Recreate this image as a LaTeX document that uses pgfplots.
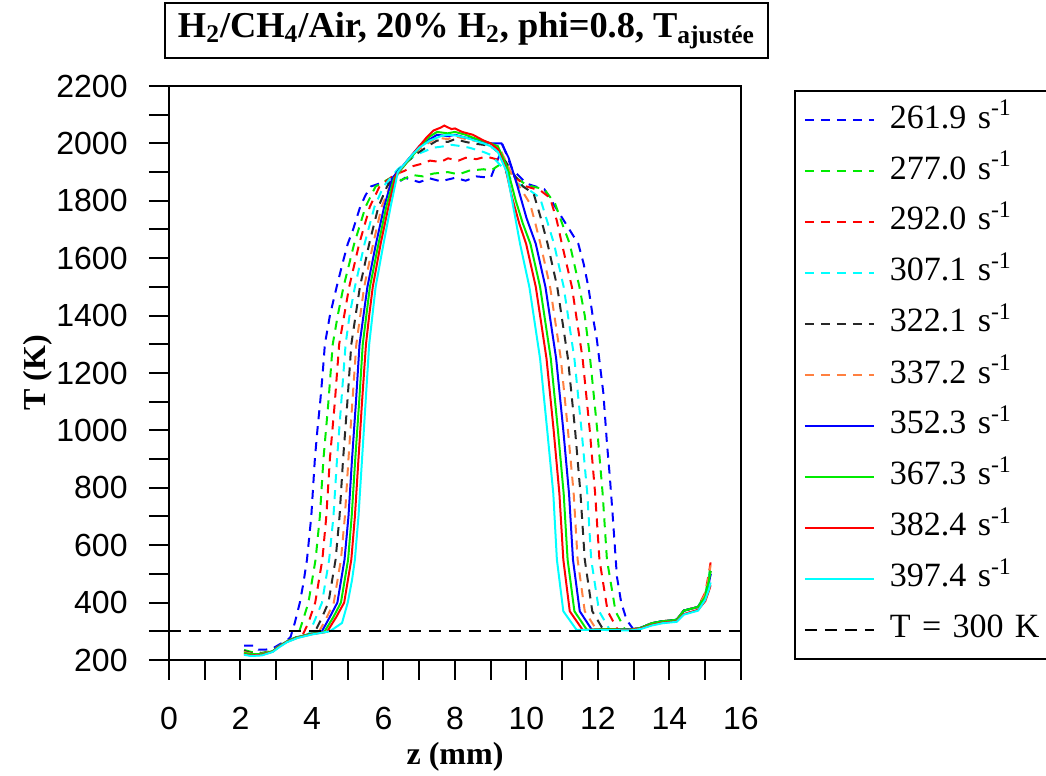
\documentclass[border=0pt]{standalone}
\usepackage{fontspec}
\setmainfont{Liberation Serif}
\newfontfamily\arialfont{Liberation Sans}
\usepackage{pgfplots}
\pgfplotsset{compat=1.18}
\definecolor{cblue}{RGB}{0,0,255}
\definecolor{cgreen}{RGB}{0,235,0}
\definecolor{cred}{RGB}{255,0,0}
\definecolor{ccyan}{RGB}{0,255,255}
\definecolor{cblack}{RGB}{40,40,40}
\definecolor{corange}{RGB}{255,128,64}
\begin{document}
\begin{tikzpicture}
\path[use as bounding box] (-84.5pt,-58pt) rectangle (438.5pt,330pt);
\begin{axis}[
  at={(0pt,0pt)}, anchor=south west,
  scale only axis, width=286pt, height=287pt,
  xmin=0, xmax=16, ymin=200, ymax=2200,
  xtick={0,2,...,16}, ytick={200,400,...,2200},
  minor x tick num=1, minor y tick num=1,
  tick pos=left, tick align=outside,
  major tick length=10pt, minor tick length=10pt,
  every tick/.style={black, line width=1pt},
  axis line style={line width=1pt},
  /pgf/number format/assume math mode=true,
  /pgf/number format/1000 sep={},
  ticklabel style={font=\arialfont\fontsize{16}{18}\selectfont, inner sep=0pt},
  xticklabel style={anchor=base, yshift=-24.5pt},
  yticklabel style={anchor=east, xshift=-10.5pt},
  xlabel={z (mm)}, ylabel={T (K)},
  label style={font=\bfseries\fontsize{16}{18}\selectfont},
  xlabel style={at={(axis description cs:0.5,-0.168)}, anchor=center},
  ylabel style={at={(axis description cs:-0.23,0.5)}, anchor=center},
  title={H\textsubscript{2}/CH\textsubscript{4}/Air, 20\% H\textsubscript{2}, phi=0.8, T\textsubscript{ajustée}},
  title style={at={(axis description cs:0.52,1)}, anchor=center, yshift=21.75pt, draw=black, line width=1pt, minimum width=301.5pt, minimum height=27.5pt, inner sep=0pt, font=\bfseries\fontsize{18.2}{21}\selectfont},
  no marks,
  every axis plot/.append style={line width=1pt},
  legend image code/.code={\draw[#1] (0pt,0pt) -- (34.5pt,0pt);},
  legend cell align=left,
  legend style={at={(axis description cs:1,1)}, anchor=north west, xshift=26.5pt, yshift=-2pt,
    draw=black, line width=1pt, font=\fontsize{17}{20}\selectfont,
    inner xsep=4.5pt, inner ysep=6.5pt, row sep=9.5pt, column sep=7.5pt,
    nodes={inner sep=0pt, text height=12pt, text depth=4pt, text width=80pt}},
  dashpat/.style={dash pattern=on 4.5pt off 3.5pt},
]
% 261.9
\addplot[cblue, dashpat] coordinates {(2.1,250) (2.4,250) (2.5,236) (2.7,236) (2.9,240) (3.1,255) (3.3,268) (3.4,280) (3.52,330) (3.66,400) (3.76,468) (3.86,550) (3.98,700) (4.08,900) (4.15,1000) (4.23,1100) (4.3,1200) (4.36,1300) (4.5,1400) (4.69,1500) (4.85,1580) (5.0,1650) (5.15,1700) (5.35,1780) (5.5,1820) (5.65,1850) (6.0,1865) (6.3,1855) (6.6,1880) (7.0,1865) (7.3,1878) (7.6,1868) (8.0,1880) (8.3,1870) (8.6,1885) (9.0,1880) (9.2,1945) (9.35,1990) (9.6,1910) (10.0,1860) (10.5,1840) (10.85,1770) (11.2,1700) (11.45,1650) (11.6,1580) (11.73,1500) (11.85,1400) (11.97,1315) (12.15,1130) (12.25,956) (12.33,840) (12.4,723) (12.53,490) (12.65,400) (12.8,340) (13.0,305) (13.2,312) (13.5,328) (13.8,335) (14.2,340) (14.4,372) (14.8,385) (15.0,425) (15.1,470) (15.15,500)};
\addlegendentry{261.9 s\textsuperscript{-1}}
% 277.0
\addplot[cgreen, dashpat] coordinates {(2.1,235) (2.3,228) (2.6,225) (2.9,232) (3.1,250) (3.3,265) (3.6,282) (3.75,340) (3.9,400) (4.1,550) (4.22,700) (4.32,900) (4.46,1100) (4.58,1300) (4.72,1400) (4.88,1500) (5.18,1650) (5.5,1780) (5.78,1850) (6.2,1880) (6.5,1872) (6.8,1890) (7.1,1885) (7.4,1895) (7.8,1900) (8.1,1892) (8.4,1905) (8.8,1910) (9.0,1905) (9.3,1930) (9.6,1890) (10.0,1855) (10.5,1840) (10.8,1790) (11.0,1720) (11.21,1650) (11.48,1500) (11.63,1400) (11.78,1250) (11.98,1000) (12.13,780) (12.25,550) (12.49,370) (12.76,305) (13.0,306) (13.2,312) (13.5,328) (13.8,335) (14.2,340) (14.4,372) (14.8,385) (15.0,430) (15.1,490) (15.15,530)};
\addlegendentry{277.0 s\textsuperscript{-1}}
% 292.0
\addplot[cred, dashpat] coordinates {(2.1,228) (2.3,222) (2.6,222) (2.9,232) (3.1,250) (3.3,265) (3.6,280) (3.75,290) (3.9,330) (4.09,400) (4.29,550) (4.40,700) (4.50,900) (4.64,1100) (4.76,1300) (4.9,1400) (5.04,1500) (5.32,1650) (5.62,1780) (5.89,1850) (6.3,1890) (6.6,1905) (6.8,1920) (7.1,1930) (7.3,1940) (7.6,1935) (7.8,1948) (8.1,1940) (8.3,1950) (8.6,1945) (8.8,1952) (9.0,1950) (9.3,1940) (9.6,1890) (10.0,1850) (10.4,1835) (10.66,1810) (10.85,1730) (10.99,1650) (11.27,1500) (11.57,1250) (11.77,1000) (11.92,780) (12.04,550) (12.27,370) (12.55,305) (12.9,306) (13.2,312) (13.5,328) (13.8,335) (14.2,340) (14.4,372) (14.8,385) (15.0,435) (15.1,500) (15.15,540)};
\addlegendentry{292.0 s\textsuperscript{-1}}
% 307.1
\addplot[ccyan, dashpat] coordinates {(2.1,225) (2.3,220) (2.6,221) (2.9,231) (3.1,250) (3.3,265) (3.6,280) (3.91,290) (4.05,330) (4.28,400) (4.48,550) (4.60,700) (4.70,900) (4.82,1100) (4.94,1300) (5.05,1400) (5.20,1500) (5.47,1650) (5.75,1780) (6.0,1850) (6.4,1910) (6.7,1940) (6.9,1960) (7.2,1975) (7.4,1985) (7.7,1990) (7.9,1995) (8.2,1990) (8.4,1985) (8.8,1970) (9.0,1960) (9.3,1920) (9.6,1870) (10.0,1845) (10.38,1810) (10.6,1720) (10.77,1650) (11.04,1500) (11.34,1250) (11.54,1000) (11.70,780) (11.81,550) (12.03,370) (12.33,305) (12.6,308) (12.9,306) (13.2,312) (13.5,328) (13.8,335) (14.2,340) (14.4,372) (14.8,385) (15.0,425) (15.1,480) (15.15,520)};
\addlegendentry{307.1 s\textsuperscript{-1}}
% 322.1
\addplot[cblack, dashpat] coordinates {(2.1,232) (2.3,224) (2.6,223) (2.9,232) (3.1,250) (3.3,265) (3.6,280) (4.06,293) (4.25,340) (4.46,400) (4.66,550) (4.77,700) (4.87,900) (4.99,1100) (5.10,1300) (5.22,1400) (5.34,1500) (5.60,1650) (5.86,1780) (6.1,1850) (6.5,1920) (6.8,1950) (7.0,1970) (7.3,1995) (7.5,2010) (7.8,2005) (8.0,2015) (8.3,2005) (8.5,2000) (8.8,1995) (9.0,1990) (9.3,1960) (9.6,1900) (9.9,1850) (10.2,1825) (10.4,1740) (10.59,1650) (10.86,1500) (11.16,1250) (11.36,1000) (11.51,780) (11.63,550) (11.84,370) (12.15,305) (12.6,308) (12.9,306) (13.2,312) (13.5,328) (13.8,335) (14.2,340) (14.4,372) (14.8,385) (15.0,420) (15.1,475) (15.15,510)};
\addlegendentry{322.1 s\textsuperscript{-1}}
% 337.2
\addplot[corange, dashpat] coordinates {(2.1,228) (2.3,222) (2.6,222) (2.9,232) (3.1,250) (3.3,265) (3.6,280) (4.0,292) (4.18,295) (4.4,345) (4.61,400) (4.81,550) (4.92,700) (5.02,900) (5.13,1100) (5.24,1300) (5.35,1400) (5.46,1500) (5.71,1650) (5.95,1780) (6.18,1850) (6.6,1930) (6.8,1960) (7.0,1980) (7.3,2005) (7.5,2020) (7.8,2015) (8.0,2025) (8.3,2015) (8.5,2010) (8.8,2005) (9.0,2000) (9.3,1970) (9.6,1890) (9.9,1830) (10.1,1790) (10.25,1720) (10.39,1650) (10.66,1500) (10.96,1250) (11.16,1000) (11.32,780) (11.43,550) (11.63,370) (11.96,305) (12.4,308) (12.9,306) (13.2,312) (13.5,328) (13.8,335) (14.2,340) (14.4,372) (14.8,385) (15.0,430) (15.1,490) (15.15,530)};
\addlegendentry{337.2 s\textsuperscript{-1}}
% 352.3
\addplot[cblue] coordinates {(2.1,222) (2.3,218) (2.6,220) (2.9,230) (3.1,250) (3.3,265) (3.6,280) (4.0,292) (4.26,296) (4.5,350) (4.71,400) (4.91,550) (5.02,700) (5.12,900) (5.23,1100) (5.33,1300) (5.44,1400) (5.55,1500) (5.79,1650) (6.02,1780) (6.25,1880) (6.6,1930) (6.8,1960) (7.0,1990) (7.3,2015) (7.5,2030) (7.8,2025) (8.0,2030) (8.3,2020) (8.5,2015) (8.8,2005) (9.0,2000) (9.3,2000) (9.5,1950) (9.75,1850) (10.0,1740) (10.26,1650) (10.53,1500) (10.83,1250) (11.03,1000) (11.19,780) (11.30,550) (11.49,370) (11.83,305) (12.3,308) (12.9,306) (13.2,312) (13.5,328) (13.8,335) (14.2,340) (14.4,372) (14.8,385) (15.0,415) (15.1,465) (15.15,500)};
\addlegendentry{352.3 s\textsuperscript{-1}}
% 367.3
\addplot[cgreen] coordinates {(2.1,225) (2.3,220) (2.6,221) (2.9,231) (3.1,250) (3.3,265) (3.6,280) (4.0,292) (4.34,297) (4.6,350) (4.81,400) (5.01,550) (5.11,700) (5.21,900) (5.32,1100) (5.42,1300) (5.52,1400) (5.62,1500) (5.86,1650) (6.08,1780) (6.3,1880) (6.7,1940) (6.9,1970) (7.1,2000) (7.3,2025) (7.5,2040) (7.8,2035) (8.0,2040) (8.3,2030) (8.5,2020) (8.8,2008) (9.0,2000) (9.2,1990) (9.45,1920) (9.7,1800) (9.9,1720) (10.11,1650) (10.38,1500) (10.68,1250) (10.88,1000) (11.04,780) (11.15,550) (11.34,370) (11.69,305) (12.2,308) (12.9,306) (13.2,312) (13.5,328) (13.8,335) (14.2,340) (14.4,372) (14.8,385) (15.0,420) (15.1,475) (15.15,510)};
\addlegendentry{367.3 s\textsuperscript{-1}}
% 382.4
\addplot[cred] coordinates {(2.1,220) (2.3,216) (2.6,218) (2.9,229) (3.1,248) (3.3,263) (3.6,278) (4.0,290) (4.42,298) (4.68,350) (4.90,400) (5.10,550) (5.20,700) (5.30,900) (5.40,1100) (5.51,1300) (5.6,1400) (5.70,1500) (5.92,1650) (6.14,1780) (6.35,1890) (6.8,1960) (7.0,1990) (7.2,2020) (7.4,2045) (7.6,2055) (7.7,2062) (7.9,2050) (8.0,2052) (8.2,2040) (8.5,2030) (8.8,2010) (9.0,2000) (9.2,1980) (9.4,1920) (9.6,1810) (9.8,1720) (9.99,1650) (10.26,1500) (10.56,1250) (10.76,1000) (10.92,780) (11.03,550) (11.21,370) (11.57,305) (12.1,306) (12.9,305) (13.2,310) (13.5,322) (13.8,330) (14.2,335) (14.4,360) (14.8,375) (15.0,405) (15.1,440) (15.15,460)};
\addlegendentry{382.4 s\textsuperscript{-1}}
% 397.4
\addplot[ccyan] coordinates {(2.1,218) (2.3,214) (2.6,216) (2.9,228) (3.1,246) (3.3,262) (3.6,277) (4.0,289) (4.5,300) (4.84,329) (5.0,400) (5.12,479) (5.2,550) (5.3,700) (5.4,900) (5.5,1100) (5.6,1300) (5.69,1400) (5.78,1500) (6.0,1650) (6.2,1780) (6.4,1900) (6.8,1960) (7.0,1985) (7.3,2010) (7.6,2025) (7.8,2030) (8.0,2028) (8.3,2020) (8.6,2008) (8.8,2000) (9.0,1990) (9.2,1970) (9.45,1900) (9.6,1800) (9.82,1650) (10.08,1500) (10.38,1250) (10.58,1000) (10.75,780) (10.85,550) (11.03,370) (11.4,305) (12.0,305) (12.9,303) (13.2,308) (13.5,320) (13.8,328) (14.2,333) (14.4,358) (14.8,372) (15.0,410) (15.1,445) (15.15,470)};
\addlegendentry{397.4 s\textsuperscript{-1}}
% T = 300 K
\addplot[black, dash pattern=on 6pt off 4pt] coordinates {(0,300) (16,300)};
\addlegendentry{T = 300 K}
\end{axis}
\end{tikzpicture}
\end{document}
